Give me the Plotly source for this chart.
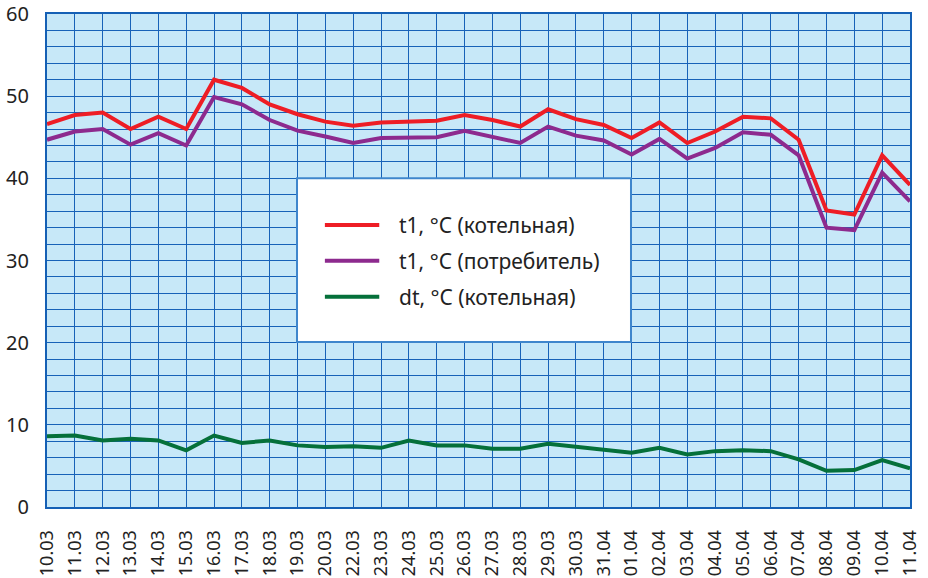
import plotly.graph_objects as go

dates = ["10.03", "11.03", "12.03", "13.03", "14.03", "15.03", "16.03", "17.03",
         "18.03", "19.03", "20.03", "22.03", "23.03", "24.03", "25.03", "26.03",
         "27.03", "28.03", "29.03", "30.03", "31.04", "01.04", "02.04", "03.04",
         "04.04", "05.04", "06.04", "07.04", "08.04", "09.04", "10.04", "11.04"]

t1_boiler = [46.6, 47.7, 48.0, 46.0, 47.5, 46.0, 52.0, 51.0, 49.0, 47.8, 46.9, 46.4,
             46.8, 46.9, 47.0, 47.7, 47.1, 46.3, 48.4, 47.2, 46.5, 44.9, 46.8, 44.3,
             45.7, 47.5, 47.3, 44.7, 36.1, 35.6, 42.8, 39.2]

t1_consumer = [44.7, 45.7, 46.0, 44.1, 45.5, 44.0, 49.9, 49.0, 47.1, 45.8, 45.1, 44.3,
               44.9, 44.9, 45.0, 45.8, 45.1, 44.3, 46.3, 45.2, 44.6, 42.9, 44.8, 42.4,
               43.7, 45.6, 45.3, 42.8, 34.0, 33.7, 40.7, 37.2]

dt_boiler = [8.6, 8.7, 8.1, 8.3, 8.1, 6.9, 8.7, 7.8, 8.1, 7.5, 7.3, 7.4,
             7.2, 8.1, 7.5, 7.5, 7.1, 7.1, 7.7, 7.3, 6.9, 6.6, 7.2, 6.4,
             6.8, 6.9, 6.8, 5.8, 4.4, 4.5, 5.7, 4.7]

names = ["t1, °C (котельная)", "t1, °C (потребитель)", "dt, °C (котельная)"]
colors = ["#EE1D25", "#8D2A8E", "#05703A"]
series = [t1_boiler, t1_consumer, dt_boiler]

FONT = "Noto Sans"
GRID = "#1762B8"
TXT = "#222222"

fig = go.Figure()
for name, col, vals in zip(names, colors, series):
    fig.add_trace(go.Scatter(x=dates, y=vals, mode="lines", name=name,
                             line=dict(color=col, width=4), showlegend=False))

# legend box (drawn manually to match the reference proportions)
fig.add_shape(type="rect", xref="paper", yref="paper",
              x0=0.2897, x1=0.6767, y0=0.3347, y1=0.6667,
              fillcolor="white", line=dict(color="#3F86CC", width=2), layer="above")
rows_y = [0.572, 0.4996, 0.4266]
for (name, col, yy) in zip(names, colors, rows_y):
    fig.add_shape(type="line", xref="paper", yref="paper",
                  x0=0.322, x1=0.385, y0=yy, y1=yy,
                  line=dict(color=col, width=4), layer="above")
    fig.add_annotation(xref="paper", yref="paper", x=0.406, y=yy,
                       text=name, showarrow=False, xanchor="left", yanchor="middle",
                       font=dict(family=FONT, size=21, color=TXT))

fig.update_layout(
    width=928, height=578,
    margin=dict(l=47, r=18, t=14, b=71),
    paper_bgcolor="white",
    plot_bgcolor="#C7E8F8",
    font=dict(family=FONT, size=20, color=TXT),
)
fig.update_xaxes(
    type="category", range=[0, len(dates) - 1],
    tickangle=-90, showgrid=True, gridcolor=GRID, gridwidth=1.3,
    showline=True, linecolor="#1560B5", linewidth=2, mirror=True,
    ticks="", ticklabelstandoff=14, automargin=False,
    tickfont=dict(family=FONT, size=18, color=TXT),
)
fig.update_yaxes(
    range=[0, 60], dtick=10, tick0=0,
    showgrid=True, gridcolor=GRID, gridwidth=1.3,
    minor=dict(dtick=2, showgrid=True, gridcolor=GRID, gridwidth=1.3),
    showline=True, linecolor="#1560B5", linewidth=2, mirror=True,
    ticks="", ticklabelstandoff=12, zeroline=False, automargin=False,
    tickfont=dict(family=FONT, size=20, color=TXT),
)

fig.write_html(
    "out.html",
    config={"displayModeBar": False},
    post_script="document.body.style.margin='0';document.body.style.overflow='hidden';",
)
